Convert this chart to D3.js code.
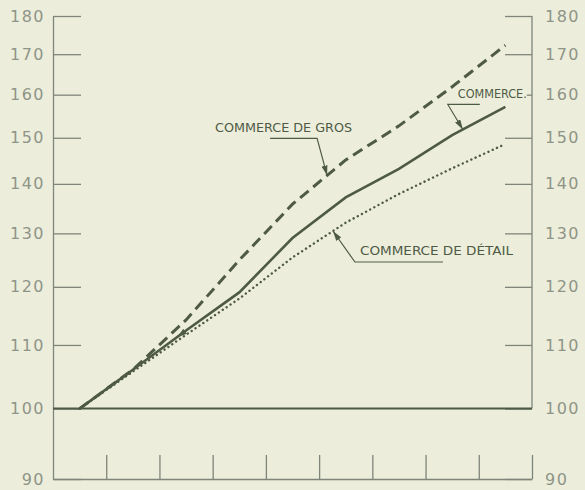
<!DOCTYPE html>
<html>
<head>
<meta charset="utf-8">
<script src="https://cdn.jsdelivr.net/npm/d3@7"></script>
<style>
  body { margin: 0; background: #eceedb; }
  svg { display: block; }
  .axis text { font-family: "DejaVu Sans", sans-serif; font-size: 16px; fill: #8f9488; letter-spacing: 1.5px; }
  .axis line, .axis path { stroke: #80857a; stroke-width: 1.3; }
  .note { font-family: "DejaVu Sans Condensed", "Liberation Sans Narrow", sans-serif; font-size: 12px; fill: #4f5a46; }
</style>
</head>
<body>
<div id="chart"></div>
<script>
// positions on the x axis (mid-intervals, no labels shown)
const periodes = [0.5, 1.5, 2.5, 3.5, 4.5, 5.5, 6.5, 7.5, 8.5];
const commerce = [100, 106.0, 112.4, 119.0, 129.1, 137.2, 143.2, 150.6, 157.1];
const commerceGros = [100, 106.0, 114.2, 124.9, 135.8, 145.1, 152.7, 161.9, 172.3];
const commerceDetail = [100, 105.7, 111.7, 117.9, 125.4, 132.1, 137.9, 143.3, 148.6];
const yTicks = [90, 100, 110, 120, 130, 140, 150, 160, 170, 180];
const xTicks = [1, 2, 3, 4, 5, 6, 7, 8, 9];

const width = 585, height = 490;
const margin = {left: 53, right: 532, top: 16, bottom: 479};
const ink = "#4f5a46";

const svg = d3.select("#chart").append("svg")
    .attr("width", width)
    .attr("height", height);

svg.append("rect").attr("width", width).attr("height", height).attr("fill", "#eceedb");

const x = d3.scaleLinear().domain([0, 9]).range([margin.left, margin.right]);
const y = d3.scaleLog().domain([90, 180]).range([margin.bottom, margin.top]);

// axes
svg.append("g")
    .attr("class", "axis")
    .attr("transform", `translate(${margin.left},0)`)
    .call(d3.axisLeft(y).tickValues(yTicks).tickFormat(d3.format("d"))
        .tickSize(-28).tickSizeOuter(0).tickPadding(8));

const yAxisR = svg.append("g")
    .attr("class", "axis")
    .attr("transform", `translate(${margin.right},0)`)
    .call(d3.axisRight(y).tickValues(yTicks).tickFormat(d3.format("d"))
        .tickSize(-27).tickSizeOuter(0).tickPadding(13));
yAxisR.select(".domain").remove();
yAxisR.append("line")
    .attr("x1", 0).attr("x2", 0)
    .attr("y1", y(180)).attr("y2", y(100))
    .attr("stroke", "#80857a").attr("stroke-width", 1.3);

svg.append("g")
    .attr("class", "axis")
    .attr("transform", `translate(0,${margin.bottom})`)
    .call(d3.axisBottom(x).tickValues(xTicks).tickFormat("")
        .tickSize(-24).tickSizeOuter(0));

// base line at 100
svg.append("line")
    .attr("x1", x(0)).attr("x2", x(9))
    .attr("y1", y(100)).attr("y2", y(100))
    .attr("stroke", ink).attr("stroke-width", 2);

// series
const line = d3.line()
    .x((d, i) => x(periodes[i]))
    .y(d => y(d));

svg.append("path").datum(commerceDetail)
    .attr("d", line)
    .attr("fill", "none").attr("stroke", ink)
    .attr("stroke-width", 2.4).attr("stroke-linecap", "round")
    .attr("stroke-dasharray", "0.1 4.6");

svg.append("path").datum(commerce)
    .attr("d", line)
    .attr("fill", "none").attr("stroke", ink)
    .attr("stroke-width", 2.6);

svg.append("path").datum(commerceGros)
    .attr("d", line)
    .attr("fill", "none").attr("stroke", ink)
    .attr("stroke-width", 3)
    .attr("stroke-dasharray", "11 6");

// arrow marker
svg.append("defs").append("marker")
    .attr("id", "fleche")
    .attr("viewBox", "0 0 10 6")
    .attr("refX", 10).attr("refY", 3)
    .attr("markerWidth", 10).attr("markerHeight", 6)
    .attr("markerUnits", "userSpaceOnUse")
    .attr("orient", "auto")
    .append("path")
    .attr("d", "M0,0L10,3L0,6Z")
    .attr("fill", ink);

// point on a series at position t (pixel interpolation)
function pointOn(serie, t) {
    let i = d3.bisectRight(periodes, t) - 1;
    i = Math.max(0, Math.min(periodes.length - 2, i));
    const f = (t - periodes[i]) / (periodes[i + 1] - periodes[i]);
    const y0 = y(serie[i]), y1 = y(serie[i + 1]);
    return [x(t), y0 + f * (y1 - y0)];
}

const notes = [
    {label: "COMMERCE DE GROS", serie: commerceGros, t: 5.15, coude: [-10, -37], fin: -57, tx: -112, ty: -43, w: 137},
    {label: "COMMERCE.", serie: commerce, t: 7.70, coude: [-15, -25], fin: 17, tx: -5, ty: -31, w: 69},
    {label: "COMMERCE DE DÉTAIL", serie: commerceDetail, t: 5.26, coude: [22, 31], fin: 110, tx: 27, ty: 24, w: 153}
];

notes.forEach(n => {
    const [px, py] = pointOn(n.serie, n.t);
    const ex = px + n.coude[0], ey = py + n.coude[1];
    if (n.label === "COMMERCE.") {
        // label sits over the 160 tick
        svg.append("rect")
            .attr("x", px + n.tx - 2).attr("y", py + n.ty - 11)
            .attr("width", n.w + 2).attr("height", 13)
            .attr("fill", "#eceedb");
    }
    svg.append("text")
        .attr("class", "note")
        .attr("x", px + n.tx).attr("y", py + n.ty)
        .attr("textLength", n.w).attr("lengthAdjust", "spacingAndGlyphs")
        .text(n.label);
    svg.append("path")
        .attr("d", `M${px + n.fin},${ey}L${ex},${ey}L${px},${py}`)
        .attr("fill", "none").attr("stroke", ink).attr("stroke-width", 1.2)
        .attr("marker-end", "url(#fleche)");
});

// small arrowhead on the merged lines near the start
const a0 = pointOn(commerce, 2.5), a1 = pointOn(commerce, 2.33);
svg.append("path")
    .attr("d", `M${a0[0]},${a0[1]}L${a1[0]},${a1[1]}`)
    .attr("fill", "none").attr("stroke", ink).attr("stroke-width", 1.5)
    .attr("marker-end", "url(#fleche)");
</script>
</body>
</html>
